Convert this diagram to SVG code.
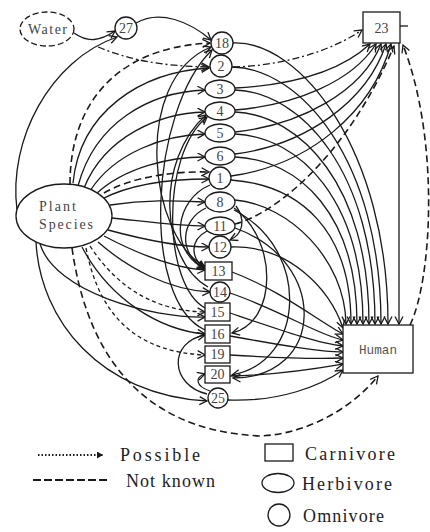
<svg xmlns="http://www.w3.org/2000/svg" width="430" height="532" viewBox="0 0 430 532">
<defs>
<marker id="ah" markerUnits="userSpaceOnUse" markerWidth="12" markerHeight="12" refX="8" refY="4.5" orient="auto">
<path d="M0.5,0.5 L8,4.5 L0.5,8.5" fill="none" stroke="#1a1a1a" stroke-width="1.3"/>
</marker>
<marker id="lh" markerUnits="userSpaceOnUse" markerWidth="10" markerHeight="10" refX="6" refY="3.5" orient="auto">
<path d="M0,0 L6,3.5 L0,7 Z" fill="#1a1a1a"/>
</marker>
<style>
.e{fill:none;stroke:#1a1a1a;stroke-width:1.3;marker-end:url(#ah)}
.nk{stroke-dasharray:7 4;stroke-width:1.6}
.ps{stroke-dasharray:4 3}
.dd{stroke-dasharray:7 3 2 3}
.n{fill:#fff;stroke:#1a1a1a;stroke-width:1.3}
.t{font-family:"Liberation Serif",serif;font-size:14px;fill:#444;text-anchor:middle}
.s{font-family:"Liberation Serif",serif;font-size:14px;fill:#444}
.m{font-family:"Liberation Mono",monospace;font-size:13px;fill:#555}
.lg{font-family:"Liberation Serif",serif;font-size:18px;fill:#222}
</style>
</defs>
<g id="connectors">
<path class="e" d="M74,33 C88,43 100,41 115,31"/>
<path class="e" d="M136,23 C160,9 190,22 211,40"/>
<path class="e" d="M17,210 C8,140 50,60 117,37"/>
<path class="e dd" d="M98,47 C130,60 160,66 209,67"/>
<path class="e nk" d="M70,184 C70,110 110,48 210,43"/>
<path class="e" d="M73,183 C80,112 140,72 209,68"/>
<path class="e" d="M78,186 C95,122 150,92 205,90"/>
<path class="e" d="M84,188 C105,136 160,113 205,112"/>
<path class="e" d="M90,191 C115,152 165,135 205,134"/>
<path class="e" d="M96,194 C125,167 170,157 205,157"/>
<path class="e nk" d="M104,193 C130,178 170,171 209,172"/>
<path class="e" d="M102,199 C135,182 175,179 209,179"/>
<path class="e" d="M110,205 C150,199 180,201 205,202"/>
<path class="e" d="M112,218 C150,222 180,226 205,226"/>
<path class="e" d="M108,230 C145,240 180,247 209,247"/>
<path class="e" d="M104,236 C140,255 175,268 205,270"/>
<path class="e" d="M98,242 C130,270 170,290 210,292"/>
<path class="e ps" d="M90,246 C120,292 160,311 205,312"/>
<path class="e" d="M40,244 C55,292 150,318 205,317"/>
<path class="e" d="M82,247 C110,300 160,330 205,334"/>
<path class="e ps" d="M86,248 C100,320 140,352 205,355"/>
<path class="e" d="M36,242 C40,320 100,395 207,401"/>
<path class="e nk" d="M72,248 C85,340 130,430 260,436 C310,434 355,405 378,376"/>
<path class="e" d="M205,266 C150,240 130,80 211,47"/>
<path class="e" d="M208,287 C160,260 155,160 206,115"/>
<path class="e" d="M205,308 C163,285 160,155 207,117"/>
<path class="e" d="M205,330 C140,300 150,110 212,50"/>
<path class="e" d="M206,208 C180,220 178,255 205,268"/>
<path class="e" d="M207,231 C190,240 190,258 205,268"/>
<path class="e" d="M210,185 C175,200 168,250 205,269"/>
<path class="e" d="M207,394 C170,385 168,342 205,335"/>
<path class="e" d="M210,391 C195,386 195,377 205,374"/>
<path class="e" d="M233,43 C300,40 388,150 388,324"/>
<path class="e" d="M232,67 C300,68 381,160 381,324"/>
<path class="e" d="M235,90 C300,92 375,170 375,324"/>
<path class="e" d="M235,112 C300,115 369,185 369,324"/>
<path class="e" d="M235,134 C300,137 363,200 363,324"/>
<path class="e" d="M235,157 C300,160 357,215 357,324"/>
<path class="e" d="M231,180 C300,185 351,230 351,324"/>
<path class="e" d="M235,200 C290,205 345,260 346,324"/>
<path class="e" d="M235,88 C290,85 340,72 370,44"/>
<path class="e" d="M235,110 C295,105 352,82 376,44"/>
<path class="e" d="M235,132 C300,125 362,92 381,44"/>
<path class="e" d="M235,154 C305,145 367,102 386,44"/>
<path class="e" d="M231,176 C310,165 372,112 391,44"/>
<path class="e nk" d="M235,224 C280,212 350,150 394,46"/>
<path class="e dd" d="M233,67 C280,66 330,52 362,30"/>
<path class="e nk" d="M410,325 C432,280 440,140 403,45"/>
<path class="e" d="M399,43 L399,324"/>
<path fill="none" stroke="#1a1a1a" stroke-width="1.3" d="M400,26 L408,26"/>
<path class="e" d="M236,206 C246,220 243,234 230,240"/>
<path class="e" d="M234,208 C278,240 278,322 232,333"/>
<path class="e" d="M234,210 C312,250 305,362 232,375"/>
<path class="e" d="M235,228 C330,262 325,378 233,378"/>
<path class="e" d="M231,247 C290,245 330,290 343,328"/>
<path class="e" d="M232,272 C280,290 320,322 343,334"/>
<path class="e" d="M230,293 C280,310 320,336 343,340"/>
<path class="e" d="M230,313 C280,330 320,344 343,346"/>
<path class="e" d="M230,336 C280,345 320,352 343,352"/>
<path class="e" d="M230,355 C280,358 320,359 343,358"/>
<path class="e" d="M230,376 C280,375 320,368 343,364"/>
<path class="e" d="M228,400 C280,402 320,386 343,370"/>
</g>
<g id="water"><ellipse class="n" cx="47" cy="29" rx="27" ry="17" stroke-dasharray="6 3"/><text class="s" x="28" y="34" textLength="39" lengthAdjust="spacing">Water</text></g>
<g id="n27"><circle class="n" cx="126" cy="28" r="11"/><text class="t" x="126" y="33">27</text></g>
<g id="n18"><circle class="n" cx="222" cy="43" r="11"/><text class="t" x="222" y="48">18</text></g>
<g id="n2"><circle class="n" cx="221" cy="66" r="11"/><text class="t" x="221" y="71">2</text></g>
<g id="n3"><ellipse class="n" cx="220" cy="89" rx="15" ry="9"/><text class="t" x="220" y="94">3</text></g>
<g id="n4"><ellipse class="n" cx="220" cy="111" rx="15" ry="9"/><text class="t" x="220" y="116">4</text></g>
<g id="n5"><ellipse class="n" cx="220" cy="133" rx="15" ry="9"/><text class="t" x="220" y="138">5</text></g>
<g id="n6"><ellipse class="n" cx="220" cy="156" rx="15" ry="9"/><text class="t" x="220" y="161">6</text></g>
<g id="n1"><circle class="n" cx="220" cy="178" r="11"/><text class="t" x="220" y="183">1</text></g>
<g id="n8"><ellipse class="n" cx="220" cy="202" rx="15" ry="10"/><text class="t" x="220" y="207">8</text></g>
<g id="n11"><ellipse class="n" cx="220" cy="226" rx="15" ry="9"/><text class="t" x="220" y="231">11</text></g>
<g id="n12"><circle class="n" cx="220" cy="247" r="11"/><text class="t" x="220" y="252">12</text></g>
<g id="n13"><rect class="n" x="205" y="262" width="27" height="18"/><text class="t" x="218.5" y="276">13</text></g>
<g id="n14"><circle class="n" cx="220" cy="292" r="10"/><text class="t" x="220" y="297">14</text></g>
<g id="n15"><rect class="n" x="205" y="303" width="25" height="18"/><text class="t" x="217.5" y="317">15</text></g>
<g id="n16"><rect class="n" x="205" y="325" width="25" height="18"/><text class="t" x="217.5" y="339">16</text></g>
<g id="n19"><rect class="n" x="205" y="346" width="25" height="17"/><text class="t" x="217.5" y="359">19</text></g>
<g id="n20"><rect class="n" x="205" y="366" width="25" height="17"/><text class="t" x="217.5" y="379">20</text></g>
<g id="n25"><circle class="n" cx="218" cy="398" r="10"/><text class="t" x="218" y="403">25</text></g>
<g id="n23"><rect class="n" x="363" y="12" width="37" height="31"/><text class="t" x="381.5" y="33">23</text></g>
<g id="human"><rect class="n" x="343" y="325" width="70" height="48"/><text class="m" x="359" y="354" textLength="38" lengthAdjust="spacingAndGlyphs">Human</text></g>
<g id="plant"><ellipse class="n" cx="64" cy="216" rx="48" ry="32"/><text class="s" x="39" y="211" textLength="37" lengthAdjust="spacing">Plant</text><text class="s" x="39" y="229" textLength="54" lengthAdjust="spacing">Species</text></g>
<g id="legend">
<line x1="38" y1="455" x2="103" y2="455" stroke="#1a1a1a" stroke-width="1.8" stroke-dasharray="1.5 2" marker-end="url(#lh)"/>
<text class="lg" x="120" y="461" textLength="80" lengthAdjust="spacing">Possible</text>
<line x1="33" y1="480" x2="108" y2="480" stroke="#1a1a1a" stroke-width="2" stroke-dasharray="8 3"/>
<text class="lg" x="126" y="487" textLength="89" lengthAdjust="spacing">Not known</text>
<rect class="n" x="265" y="444" width="28" height="17"/>
<text class="lg" x="305" y="460" textLength="90" lengthAdjust="spacing">Carnivore</text>
<ellipse class="n" cx="278" cy="483" rx="16" ry="9.5"/>
<text class="lg" x="302" y="490" textLength="90" lengthAdjust="spacing">Herbivore</text>
<circle class="n" cx="279" cy="515" r="11"/>
<text class="lg" x="303" y="522" textLength="81" lengthAdjust="spacing">Omnivore</text>
</g>
</svg>
